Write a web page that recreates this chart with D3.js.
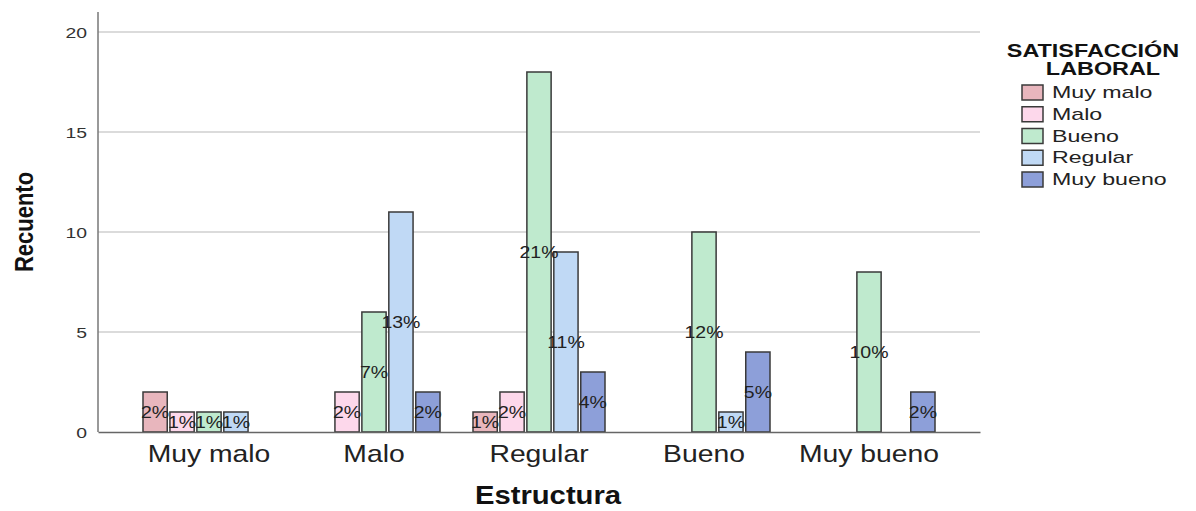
<!DOCTYPE html>
<html>
<head>
<meta charset="utf-8">
<script src="https://cdn.jsdelivr.net/npm/d3@7"></script>
<style>
  html, body { margin: 0; padding: 0; background: #fff; }
  svg { display: block; font-family: "Liberation Sans", Arial, sans-serif; }
</style>
</head>
<body>
<svg id="chart" width="1196" height="511"></svg>
<script>
// ---- Data ----
const categories = ["Muy malo", "Malo", "Regular", "Bueno", "Muy bueno"];
const seriesNames = ["Muy malo", "Malo", "Bueno", "Regular", "Muy bueno"];
// counts per category (rows) for each series (columns, in seriesNames order)
const countsMuyMalo  = [2, 1, 1, 1, 0];
const countsMalo     = [0, 2, 6, 11, 2];
const countsRegular  = [1, 2, 18, 9, 3];
const countsBueno    = [0, 0, 10, 1, 4];
const countsMuyBueno = [0, 0, 8, 0, 2];
const yTicks = [0, 5, 10, 15, 20];
const seriesColors = ["#e8b6bd", "#fdd8eb", "#bfeace", "#c0d9f5", "#8d9fd9"];

const rows = [countsMuyMalo, countsMalo, countsRegular, countsBueno, countsMuyBueno];
const total = d3.sum(rows.flat());

const svg = d3.select("#chart");
const margin = { left: 98, right: 216, top: 12, bottom: 79 };
const W = 1196, H = 511;
const x0 = d3.scaleBand().domain(categories)
  .range([margin.left, W - margin.right])
  .paddingInner(0.2).paddingOuter(0.2727);
const x1 = d3.scaleBand().domain(seriesNames)
  .range([0, x0.bandwidth()]).paddingInner(0.1).paddingOuter(0);
const y = d3.scaleLinear().domain([0, 20]).range([432, 32]);
const color = d3.scaleOrdinal().domain(seriesNames).range(seriesColors);

// gridlines
svg.append("g").selectAll("line").data(yTicks.filter(t => t > 0)).join("line")
  .attr("x1", margin.left).attr("x2", W - margin.right)
  .attr("y1", d => y(d)).attr("y2", d => y(d))
  .attr("stroke", "#cfcfcf").attr("stroke-width", 1.5);

// bars
const data = [];
categories.forEach((c, i) => seriesNames.forEach((s, j) => {
  if (rows[i][j] > 0) data.push({ cat: c, ser: s, v: rows[i][j] });
}));
svg.append("g").selectAll("rect").data(data).join("rect")
  .attr("x", d => x0(d.cat) + x1(d.ser))
  .attr("width", x1.bandwidth())
  .attr("y", d => y(d.v))
  .attr("height", d => y(0) - y(d.v))
  .attr("fill", d => color(d.ser))
  .attr("stroke", "#3a3a3a").attr("stroke-width", 1.5);

// axes
const yAxis = svg.append("g").attr("transform", `translate(${margin.left},0)`)
  .call(d3.axisLeft(y).tickValues(yTicks).tickSize(0).tickPadding(0));
yAxis.select(".domain").remove();
yAxis.selectAll("text")
  .attr("x", -11 / 1.25).attr("dy", "0.36em")
  .attr("transform", "scale(1.25,1)")
  .style("font-size", "15.5px").style("fill", "#333")
  .style("font-family", "'Liberation Sans', Arial, sans-serif");
svg.append("line").attr("x1", margin.left).attr("x2", margin.left)
  .attr("y1", 12).attr("y2", 432).attr("stroke", "#777").attr("stroke-width", 1.5);

const xAxis = svg.append("g").attr("transform", `translate(0,432)`)
  .call(d3.axisBottom(x0).tickSize(0).tickPadding(0));
xAxis.select(".domain").attr("stroke", "#666").attr("stroke-width", 1.5);
xAxis.selectAll("text")
  .attr("y", 0).attr("dy", "30")
  .attr("transform", "scale(1.18,1)")
  .style("font-size", "24px").style("fill", "#222")
  .style("font-family", "'Liberation Sans', Arial, sans-serif");

// percent labels
svg.append("g").selectAll("text").data(data).join("text")
  .attr("transform", d => `translate(${x0(d.cat) + x1(d.ser) + x1.bandwidth() / 2},${y(d.v / 2)}) scale(1.22,1)`)
  .attr("text-anchor", "middle").attr("dy", "0.36em")
  .style("font-size", "16px").style("fill", "#222")
  .text(d => Math.round(d.v / total * 100) + "%");

// axis titles
svg.append("text")
  .attr("transform", "translate(548,504) scale(1.17,1)")
  .attr("text-anchor", "middle")
  .style("font-size", "25px").style("font-weight", "bold").style("fill", "#111")
  .text("Estructura");
svg.append("text")
  .attr("transform", "translate(33,222) rotate(-90) scale(1,1.2)")
  .attr("text-anchor", "middle")
  .style("font-size", "22px").style("font-weight", "bold").style("fill", "#111")
  .style("font-family", "'Liberation Sans Narrow', 'Arial Narrow', sans-serif")
  .text("Recuento");

// legend
const lg = svg.append("g");
lg.append("text").attr("transform", "translate(1093,57) scale(1.3,1)")
  .attr("text-anchor", "middle").style("font-size", "18px").style("font-weight", "bold").style("fill", "#111")
  .text("SATISFACCIÓN");
lg.append("text").attr("transform", "translate(1103,75) scale(1.3,1)")
  .attr("text-anchor", "middle").style("font-size", "18px").style("font-weight", "bold").style("fill", "#111")
  .text("LABORAL");
const items = lg.selectAll("g.item").data(seriesNames).join("g")
  .attr("class", "item")
  .attr("transform", (d, i) => `translate(1022,${85 + i * 21.75})`);
items.append("rect").attr("width", 21).attr("height", 15)
  .attr("fill", d => color(d)).attr("stroke", "#3a3a3a").attr("stroke-width", 1.5);
items.append("text").attr("transform", "translate(30,13) scale(1.45,1)")
  .style("font-size", "16px").style("fill", "#222").text(d => d);
</script>
</body>
</html>
